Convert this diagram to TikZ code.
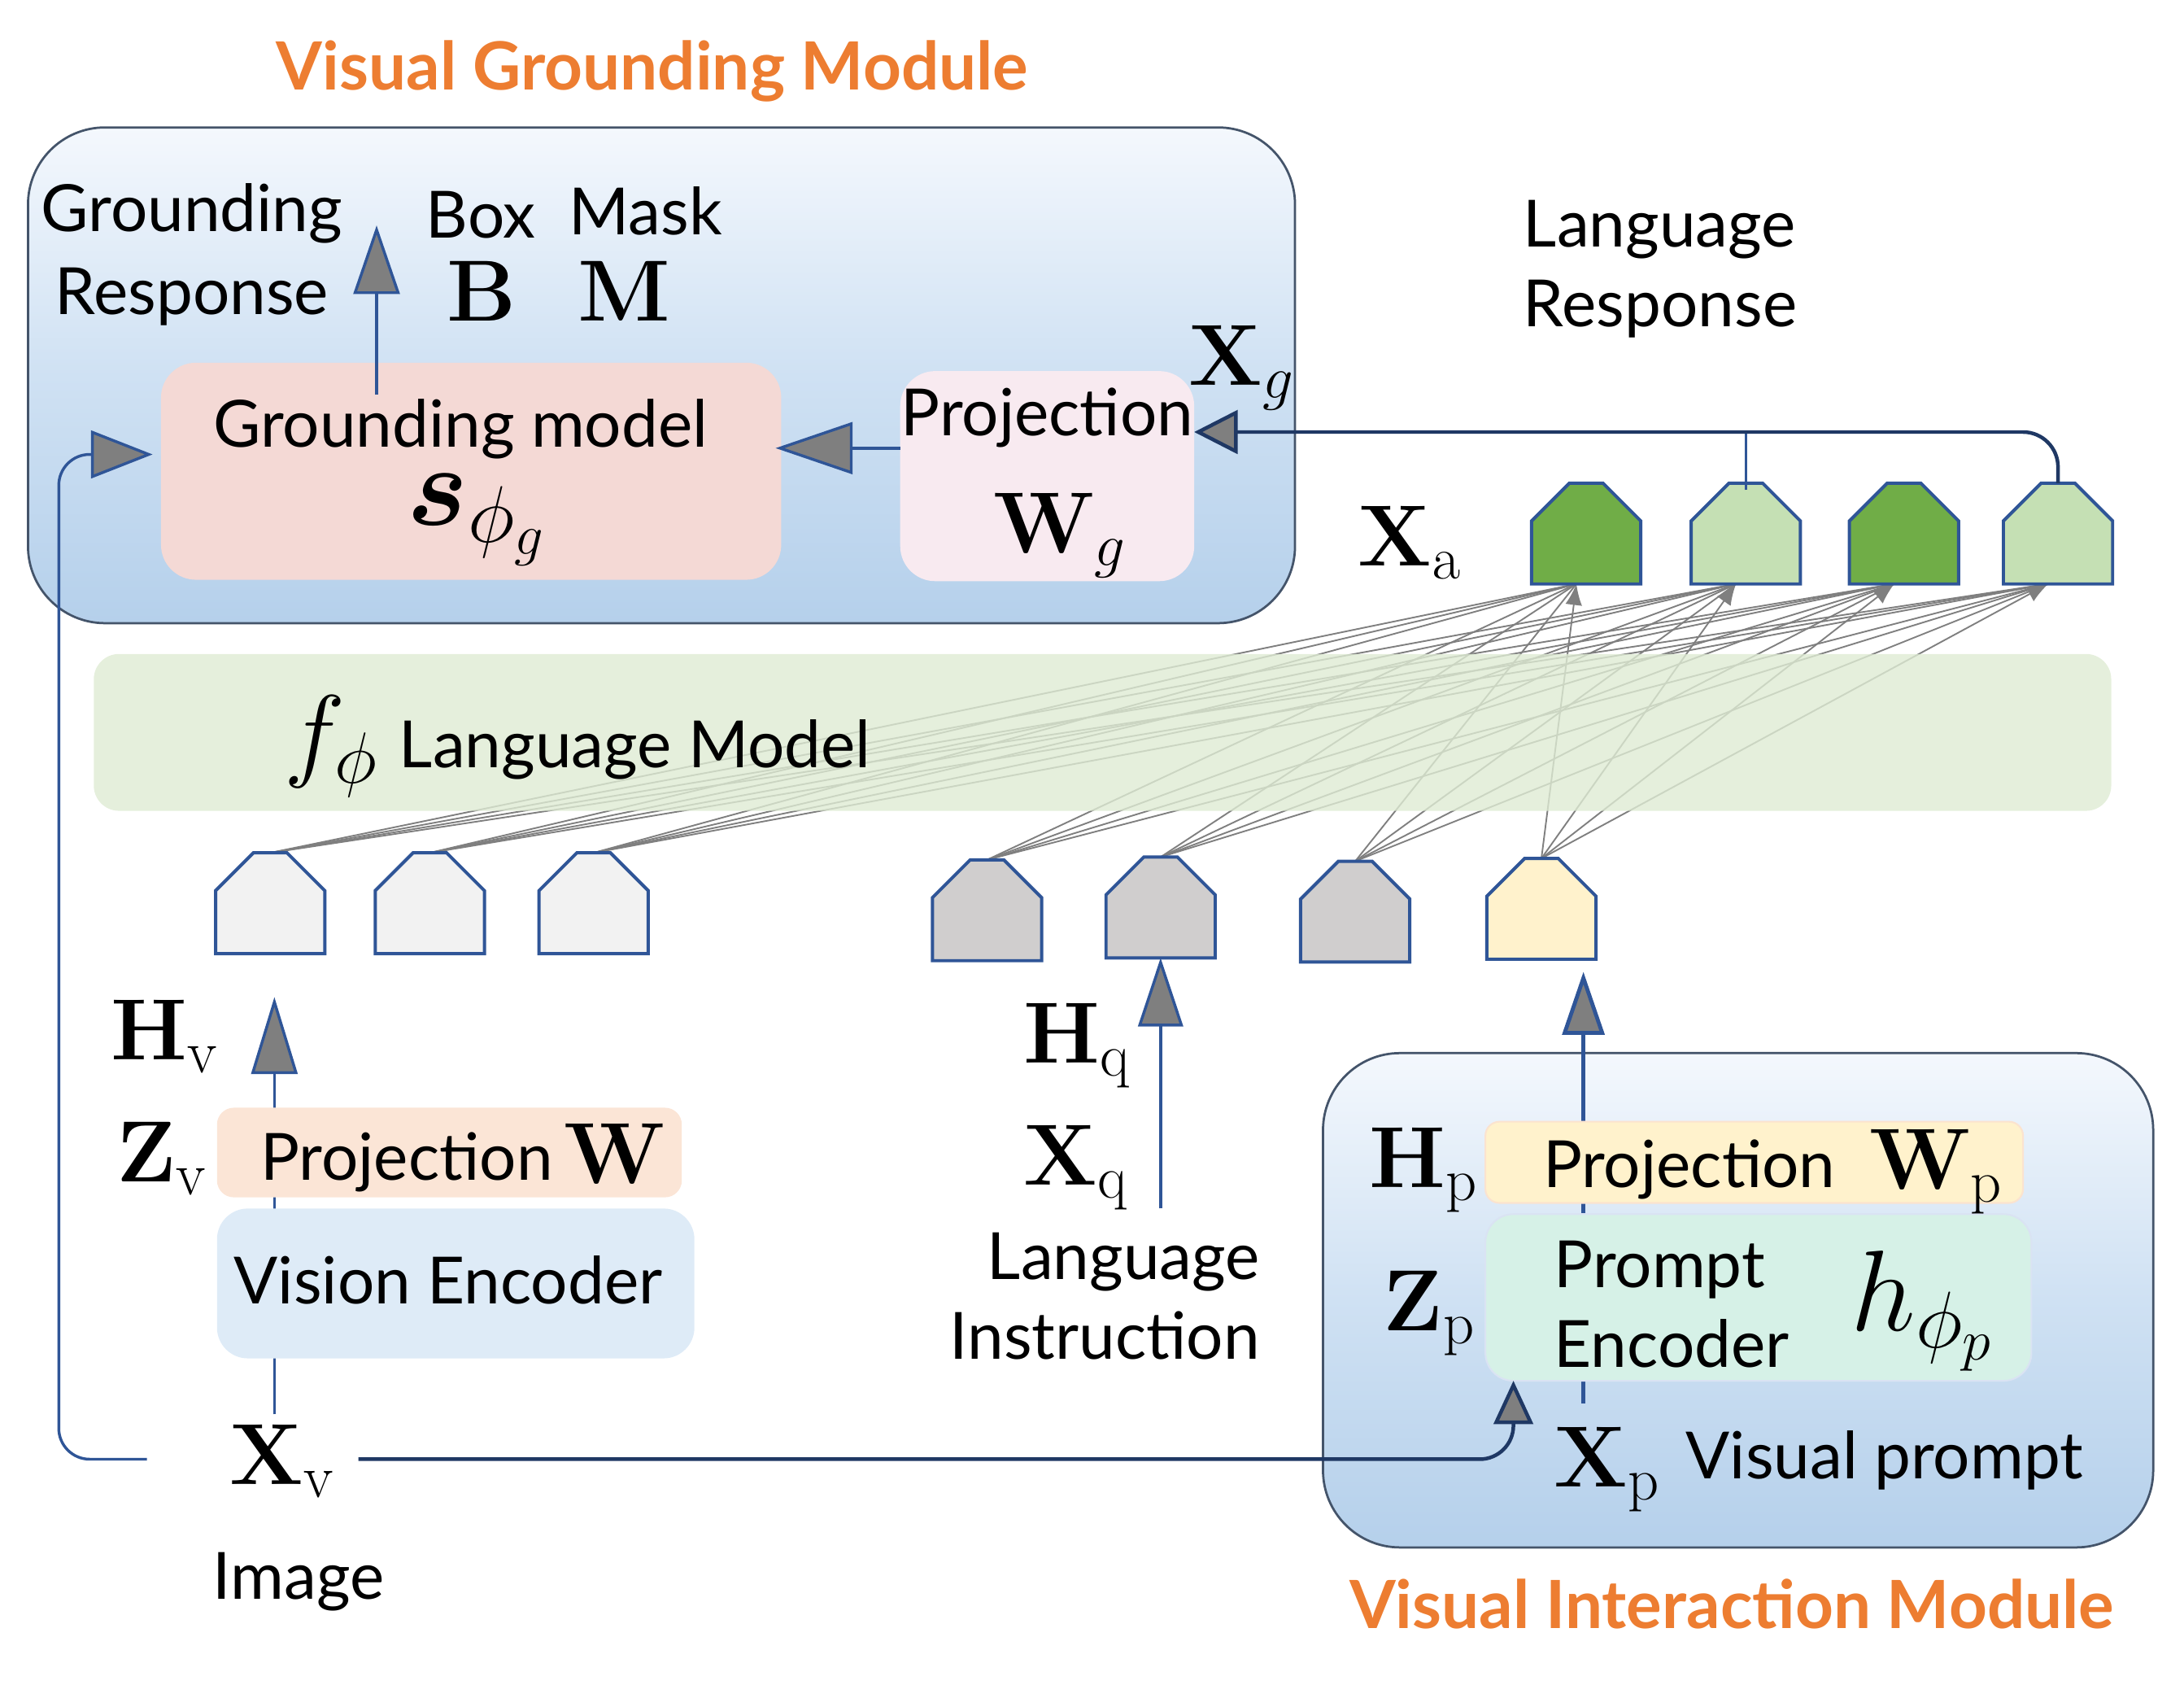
\RequirePackage{fix-cm}
\documentclass[tikz,border=0pt]{standalone}
\usepackage{bm}
\usepackage[no-math]{fontspec}
\newfontfamily\sansf{Lato}
\usetikzlibrary{arrows.meta,calc}
\definecolor{orangeT}{HTML}{ED7D31}
\definecolor{frameC}{HTML}{44546A}
\definecolor{tokB}{HTML}{2F5597}
\definecolor{navyC}{HTML}{1F3864}
\definecolor{agray}{HTML}{7F7F7F}
\definecolor{gmF}{HTML}{F4D9D5}
\definecolor{pgF}{HTML}{F8EAF0}
\definecolor{lmF}{HTML}{DEEBD3}
\definecolor{pwF}{HTML}{FBE5D6}
\definecolor{veF}{HTML}{DEEBF7}
\definecolor{ppF}{HTML}{FFF2CC}
\definecolor{ppD}{HTML}{FBE3CF}
\definecolor{peF}{HTML}{D6F1E7}
\definecolor{peD}{HTML}{DAE3F3}
\definecolor{dgreen}{HTML}{70AD47}
\definecolor{lgreen}{HTML}{C5E0B4}
\definecolor{vtok}{HTML}{F2F2F2}
\definecolor{qtok}{HTML}{D0CECE}
\definecolor{ptok}{HTML}{FFF2CC}
\definecolor{shTop}{HTML}{F4F8FD}
\definecolor{shMid}{HTML}{CFE1F3}
\definecolor{shBot}{HTML}{B5D0EB}
\begin{document}
\begin{tikzpicture}[x=1pt,y=-1pt,
  box/.style={rectangle,inner sep=0pt,outer sep=0pt},
  module/.style={box,draw=frameC,line width=1.6pt,rounded corners=55pt,top color=shTop,bottom color=shBot,middle color=shMid},
  tokbox/.style={rectangle,minimum width=78pt,minimum height=72pt,inner sep=0pt,outer sep=0pt},
  tokline/.style={draw=tokB,line width=2.3pt,line join=miter},
  tline/.style={draw=agray,line width=1.1pt},
  lbl/.style={font=\sansf\fontsize{46.5}{57}\selectfont,inner sep=0pt},
  ttl/.style={font=\sansf\bfseries\fontsize{47.5}{52}\selectfont,text=orangeT,inner sep=0pt},
  mth/.style={font=\fontsize{62}{64}\selectfont,inner sep=0pt},
  mthL/.style={font=\fontsize{82}{84}\selectfont,inner sep=0pt},
  mthF/.style={font=\fontsize{74}{76}\selectfont,inner sep=0pt},
  conn/.style={draw=tokB,line width=2pt},
  navyconn/.style={draw=navyC,line width=2.6pt},
  ahead/.style 2 args={-{Triangle[length=#1,width=#2,fill=agray]}}]
\useasboundingbox (0,0) rectangle (1560,1203);

% ---------- Visual grounding module ----------
\node[module,minimum width=905pt,minimum height=354pt] (vgm) at (472.5,268) {};
\node[box,fill=gmF,rounded corners=25pt,minimum width=443pt,minimum height=155pt] (gm) at (336.5,336.5) {};
\node[box,fill=pgF,rounded corners=25pt,minimum width=210pt,minimum height=150pt] (pg) at (748,340) {};

% ---------- Visual interaction module ----------
\node[module,minimum width=593pt,minimum height=353pt] (vim) at (1241.5,928.5) {};
\coordinate (pas) at (1131,1002);
\coordinate (pat) at (1131,694);
\draw[conn,line width=2.8pt,ahead={45pt}{30pt}] (pas) -- (pat);
\node[box,fill=ppF,draw=ppD,line width=1.2pt,rounded corners=10pt,minimum width=384pt,minimum height=58pt] (pp) at (1253,830) {};
\node[box,fill=peF,draw=peD,line width=1.2pt,rounded corners=20pt,minimum width=390pt,minimum height=119pt] (pe) at (1256,926.5) {};

% ---------- vision branch ----------
\coordinate (hvs) at (196,1010);
\coordinate (hvt) at (196,712);
\draw[conn,ahead={55pt}{33pt}] (hvs) -- (hvt);
\node[box,fill=pwF,rounded corners=12pt,minimum width=332pt,minimum height=64pt] (pw) at (321,823) {};
\node[box,fill=veF,rounded corners=22pt,minimum width=341pt,minimum height=107pt] (ve) at (325.5,916.5) {};

% ---------- tokens (positions) ----------
\node[tokbox] (v1) at (154+39,609+36) {};
\node[tokbox] (v2) at (268+39,609+36) {};
\node[tokbox] (v3) at (385+39,609+36) {};
\node[tokbox] (q1) at (666+39,614+36) {};
\node[tokbox] (q2) at (790+39,612+36) {};
\node[tokbox] (q3) at (929+39,615+36) {};
\node[tokbox] (p1) at (1062+39,613+36) {};
\node[tokbox] (o1) at (1094+39,345+36) {};
\node[tokbox] (o2) at (1208+39,345+36) {};
\node[tokbox] (o3) at (1321+39,345+36) {};
\node[tokbox] (o4) at (1431+39,345+36) {};

% attention lines
\foreach \i in {v1,v2,v3,q1,q2,q3}{
  \foreach \o in {o1,o2,o3,o4}{
    \draw[tline] (\i.north) -- ([xshift=-7pt]\o.south);}}
\foreach \o in {o1,o2,o3,o4}{
  \draw[tline,-{Latex[length=15pt,width=12pt]}] (p1.north) -- ([xshift=-7pt]\o.south);}

% language model band (over the lines)
\node[box,fill=lmF,fill opacity=0.8,rounded corners=18pt,minimum width=1441pt,minimum height=112pt] (lm) at (787.5,523) {};

% token shapes
\foreach \n/\c in {v1/vtok,v2/vtok,v3/vtok,q1/qtok,q2/qtok,q3/qtok,p1/ptok,o1/dgreen,o2/lgreen,o3/dgreen,o4/lgreen}{
  \filldraw[tokline,fill=\c] (\n.south west) -- ++(0,-45) -- ++(27,-27) -- ++(24,0) -- ++(27,27) -- ++(0,45) -- cycle;}

% ---------- connectors ----------
\coordinate (grb) at (269,282);
\coordinate (grt) at (269,161);
\draw[conn,ahead={49pt}{33pt}] (grb) -- (grt);
\draw[conn,ahead={55pt}{37pt}] ([yshift=20pt]pg.west) -- ([yshift=20pt,xshift=-4pt]pg.west -| gm.east);
\coordinate (lstart) at (105,1042);
\draw[conn,rounded corners=22pt,ahead={44pt}{34pt}] (lstart) -| ([xshift=-73pt,yshift=12pt]gm.west) -- ([xshift=-6pt,yshift=12pt]gm.west);
\coordinate (xvr) at (256,1042);
\draw[navyconn,rounded corners=24pt,ahead={31pt}{28pt}] (xvr) -| ([xshift=20pt]pe.south west);
\coordinate (hqs) at (829,863);
\draw[conn,ahead={49pt}{32pt}] (hqs) -- (q2.south);
\draw[conn] ([yshift=-5pt]o2.north) -- ++(0,-42);
\draw[navyconn,rounded corners=25pt,ahead={31pt}{31pt}] (o4.north) |- ([yshift=31.5pt]pg.east);

% ---------- texts ----------
\node[ttl,anchor=base] (t1) at (466,64) {Visual Grounding Module};
\node[ttl,anchor=base] (t2) at (1237,1163) {Visual Interaction Module};
\node[lbl,font=\sansf\fontsize{46.5}{59}\selectfont,align=center,anchor=north] (gresp) at (137,131) {Grounding\\Response};
\node[lbl,anchor=base] (boxt) at (343.5,170) {Box};
\node[mth,anchor=base] (bsym) at (344,229) {$\mathbf{B}$};
\node[lbl,anchor=base] (maskt) at (461,167.5) {Mask};
\node[mth,anchor=base] (msym) at (446,229) {$\mathbf{M}$};
\node[lbl,anchor=base] (gmt) at (329,319) {Grounding model};
\node[mthL,anchor=base] (ssym) at (340,375) {$\bm{s}_{\phi_g}$};
\node[lbl,anchor=base] (pgt) at (748,311) {Projection};
\node[mth,anchor=base] (wg) at (757,395) {$\mathbf{W}_g$};
\node[mth,anchor=base west] (xg) at (849,275) {$\mathbf{X}_g$};
\node[lbl,align=left,anchor=north west] (lresp) at (1088,143) {Language\\Response};
\node[mth,anchor=base west] (xa) at (970,404) {$\mathbf{X}_{\mathrm{a}}$};
\node[mthF,anchor=base west] (fphi) at (203,548) {$f_\phi$};
\node[lbl,anchor=base west] (lmt) at (285,548) {Language Model};
\node[mth,anchor=base west] (hv) at (79,757) {$\mathbf{H}_{\mathrm{v}}$};
\node[mth,anchor=base west] (zv) at (83,844) {$\mathbf{Z}_{\mathrm{v}}$};
\node[lbl,anchor=base west] (pwt) at (186,843) {Projection};
\node[mth,anchor=base west] (wsym) at (403,845) {$\mathbf{W}$};
\node[lbl,anchor=base west] (vet) at (167,931) {Vision Encoder};
\node[mth,anchor=base west] (xv) at (164,1060) {$\mathbf{X}_{\mathrm{v}}$};
\node[lbl,anchor=base west] (imgt) at (152,1142) {Image};
\node[mth,anchor=base west] (hq) at (731,759) {$\mathbf{H}_{\mathrm{q}}$};
\node[mth,anchor=base west] (xq) at (731,846) {$\mathbf{X}_{\mathrm{q}}$};
\node[lbl,align=right,anchor=north east] (linst) at (900,880) {Language\\Instruction};
\node[mth,anchor=base west] (hp) at (978,848) {$\mathbf{H}_{\mathrm{p}}$};
\node[lbl,anchor=base west] (ppt) at (1102,848) {Projection};
\node[mth,anchor=base west] (wp) at (1335,849) {$\mathbf{W}_{\mathrm{p}}$};
\node[mth,anchor=base west] (zp) at (988,950) {$\mathbf{Z}_{\mathrm{p}}$};
\node[lbl,align=left,anchor=north west] (pet) at (1110,886) {Prompt\\Encoder};
\node[mthL,anchor=base west] (hphi) at (1322,950) {$h_{\phi_p}$};
\node[mth,anchor=base west] (xp) at (1110,1062) {$\mathbf{X}_{\mathrm{p}}$};
\node[lbl,anchor=base west] (vpt) at (1204,1056) {Visual prompt};
\end{tikzpicture}
\end{document}
